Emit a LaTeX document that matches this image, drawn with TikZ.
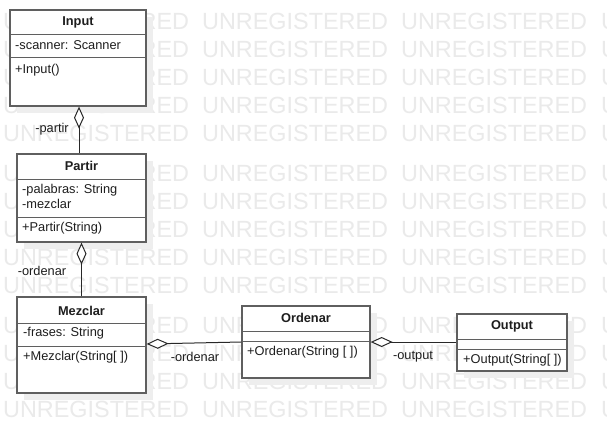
\documentclass[tikz,border=0pt]{standalone}
\usepackage{fontspec}
\setmainfont{Liberation Sans}
\usetikzlibrary{arrows.meta,shadows}
\definecolor{wm}{RGB}{234,234,234}
\definecolor{boxline}{RGB}{95,95,95}
\definecolor{txt}{RGB}{30,30,30}
\definecolor{conn}{RGB}{40,40,40}
\definecolor{shade}{RGB}{238,238,238}
\begin{document}
\begin{tikzpicture}[x=1pt,y=-1pt,
  umlbox/.style={draw=boxline, line width=1.3pt, fill=white, inner sep=0pt,
    drop shadow={shadow xshift=7pt, shadow yshift=-7pt, fill=shade, opacity=1}},
  divider/.style={draw=boxline, line width=1pt},
  attr/.style={anchor=west, inner sep=0pt, font=\fontsize{12.8}{15}\selectfont, text=txt},
  title/.style={inner sep=0pt, font=\fontsize{12.8}{15}\selectfont\bfseries, text=txt},
  lbl/.style={inner sep=0pt, font=\fontsize{12.8}{15}\selectfont, text=txt},
  wmark/.style={anchor=west, inner sep=0pt, font=\fontsize{23.4}{28}\selectfont, text=wm},
  agg/.style={draw=conn, line width=1pt, arrows={Diamond[length=22pt,width=10pt,fill=white]-}}
]
\fill[white] (0,0) rectangle (607,434);
\useasboundingbox (0,0) rectangle (607,434);

% watermark
\foreach \r in {21,49,77,105,133,173,201,229,257,285,325,353,381,409}{
  \foreach \c in {3,202,401,601}{
    \node[wmark] (wm-\r-\c) at (\c,\r) {UNREGISTERED};
  }
}

% boxes
\node[umlbox, minimum width=136pt, minimum height=96pt] (input) at (78,58) {};
\node[umlbox, minimum width=129pt, minimum height=88pt] (partir) at (81.5,198) {};
\node[umlbox, minimum width=129pt, minimum height=96pt] (mezclar) at (81.5,345) {};
\node[umlbox, minimum width=128pt, minimum height=72pt] (ordenar) at (306,342) {};
\node[umlbox, minimum width=110pt, minimum height=57pt] (output) at (512,342.5) {};

% dividers
\draw[divider] (input.west |- 0,34) -- (input.east |- 0,34);
\draw[divider] (input.west |- 0,57) -- (input.east |- 0,57);
\draw[divider] (partir.west |- 0,179) -- (partir.east |- 0,179);
\draw[divider] (partir.west |- 0,217) -- (partir.east |- 0,217);
\draw[divider] (mezclar.west |- 0,323) -- (mezclar.east |- 0,323);
\draw[divider] (mezclar.west |- 0,346) -- (mezclar.east |- 0,346);
\draw[divider] (ordenar.west |- 0,331) -- (ordenar.east |- 0,331);
\draw[divider] (ordenar.west |- 0,341) -- (ordenar.east |- 0,341);
\draw[divider] (output.west |- 0,339) -- (output.east |- 0,339);
\draw[divider] (output.west |- 0,349) -- (output.east |- 0,349);

% texts
\node[title] (t-input) at (78,22) {Input};
\node[attr] (a-input) at (15,45) {-scanner: Scanner};
\node[attr] (m-input) at (15,70) {+Input()};

\node[title] (t-partir) at (81.5,166) {Partir};
\node[attr] (a-partir1) at (22,190) {-palabras: String};
\node[attr] (a-partir2) at (22,204) {-mezclar};
\node[attr] (m-partir) at (22,228) {+Partir(String)};

\node[title] (t-mezclar) at (81.5,311) {Mezclar};
\node[attr] (a-mezclar) at (23,333) {-frases: String};
\node[attr] (m-mezclar) at (23,357) {+Mezclar(String[ ])};

\node[title] (t-ordenar) at (306,318) {Ordenar};
\node[attr] (m-ordenar) at (247,352) {+Ordenar(String [ ])};

\node[title] (t-output) at (512,326) {Output};
\node[attr] (m-output) at (463,360) {+Output(String[ ])};

% connectors
\draw[agg] ([xshift=1pt]input.south) -- ([xshift=-2.5pt]partir.north);
\draw[agg] (partir.south) -- (mezclar.north);
\draw[agg] ([yshift=1pt]mezclar.east) -- (ordenar.west);
\draw[agg] (ordenar.east) -- (output.west |- ordenar.east);

% labels
\node[lbl] (l-partir) at (52,129) {-partir};
\node[lbl] (l-ordenar1) at (42,271) {-ordenar};
\node[lbl] (l-ordenar2) at (195,357) {-ordenar};
\node[lbl] (l-output) at (413,357) {-output};
\end{tikzpicture}
\end{document}
